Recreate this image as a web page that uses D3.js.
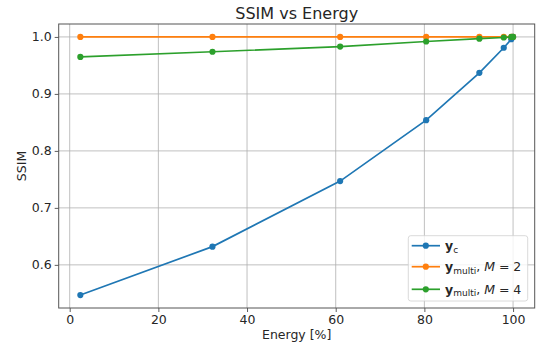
<!DOCTYPE html>
<html><head><meta charset="utf-8">
<script src="https://cdn.jsdelivr.net/npm/d3@7"></script>
<style>
body{margin:0;background:#fff;}
text{font-family:"DejaVu Sans",sans-serif;fill:#262626;}
</style></head>
<body><svg id="c" width="537" height="344"></svg>
<script>
const energy = [2.4, 32.2, 61.0, 80.4, 92.4, 97.9, 99.6, 100];
const ssimYc = [0.547, 0.632, 0.747, 0.854, 0.937, 0.981, 0.996, 1.0];
const ssimM2 = [1.0, 1.0, 1.0, 1.0, 1.0, 1.0, 1.0, 1.0];
const ssimM4 = [0.965, 0.974, 0.983, 0.992, 0.997, 0.999, 1.0, 1.0];
const xTicks = [0, 20, 40, 60, 80, 100];
const yTicks = [0.6, 0.7, 0.8, 0.9, 1.0];
const seriesNames = ["c", "multi, M = 2", "multi, M = 4"];
const colors = ["#1f77b4", "#ff7f0e", "#2ca02c"];

const svg = d3.select("#c");
const L = 58.7, R = 534.7, T = 24, B = 308;
const x = d3.scaleLinear().domain([-2.48, 104.88]).range([L, R]);
const y = d3.scaleLinear().domain([0.5243, 1.0227]).range([B, T]);

// grid
const g = svg.append("g");
g.selectAll(".gx").data(xTicks).join("line")
  .attr("x1", d => x(d)).attr("x2", d => x(d)).attr("y1", T).attr("y2", B)
  .attr("stroke", "#b0b0b0").attr("stroke-width", 0.8);
g.selectAll(".gy").data(yTicks).join("line")
  .attr("y1", d => y(d)).attr("y2", d => y(d)).attr("x1", L).attr("x2", R)
  .attr("stroke", "#b0b0b0").attr("stroke-width", 0.8);

// axes
const xa = svg.append("g").attr("transform", `translate(0,${B})`)
  .call(d3.axisBottom(x).tickValues(xTicks).tickFormat(d3.format("d")).tickSize(4).tickPadding(3));
const ya = svg.append("g").attr("transform", `translate(${L},0)`)
  .call(d3.axisLeft(y).tickValues(yTicks).tickFormat(d3.format(".1f")).tickSize(4).tickPadding(3));
[xa, ya].forEach(a => {
  a.select(".domain").remove();
  a.selectAll("line").attr("stroke", "#333").attr("stroke-width", 0.8);
  a.selectAll("text").style("font-family", "DejaVu Sans").style("font-size", "12.5px").attr("fill", "#262626");
});
// frame
svg.append("rect").attr("x", L).attr("y", T).attr("width", R - L).attr("height", B - T)
  .attr("fill", "none").attr("stroke", "#555").attr("stroke-width", 1);

// series
const all = [ssimYc, ssimM2, ssimM4];
const line = d3.line().x(d => x(d[0])).y(d => y(d[1]));
all.forEach((vals, i) => {
  const pts = energy.map((e, j) => [e, vals[j]]);
  svg.append("path").datum(pts).attr("d", line).attr("fill", "none")
    .attr("stroke", colors[i]).attr("stroke-width", 1.7);
  svg.append("g").selectAll("circle").data(pts).join("circle")
    .attr("cx", d => x(d[0])).attr("cy", d => y(d[1])).attr("r", 3.1).attr("fill", colors[i]);
});

// title & labels
svg.append("text").attr("x", (L + R) / 2).attr("y", 19).attr("text-anchor", "middle")
  .style("font-size", "16px").text("SSIM vs Energy");
svg.append("text").attr("x", (L + R) / 2).attr("y", 339).attr("text-anchor", "middle")
  .style("font-size", "12.5px").text("Energy [%]");
svg.append("text").attr("transform", `translate(26,${(T + B) / 2}) rotate(-90)`).attr("text-anchor", "middle")
  .style("font-size", "12.5px").text("SSIM");

// legend
const lg = svg.append("g");
lg.append("rect").attr("x", 408.3).attr("y", 235.7).attr("width", 119.4).attr("height", 65.3)
  .attr("rx", 2.5).attr("fill", "#fff").attr("fill-opacity", 0.8).attr("stroke", "#d0d0d0").attr("stroke-width", 0.8);
const rowsY = [245.7, 266.7, 289.3];
seriesNames.forEach((nm, i) => {
  const ry = rowsY[i];
  lg.append("line").attr("x1", 411.7).attr("x2", 440).attr("y1", ry).attr("y2", ry)
    .attr("stroke", colors[i]).attr("stroke-width", 1.7);
  lg.append("circle").attr("cx", 425.8).attr("cy", ry).attr("r", 3.1).attr("fill", colors[i]);
  const t = lg.append("text").attr("x", 445).attr("y", ry + 4.5).style("font-size", "12.5px");
  t.append("tspan").style("font-weight", "bold").text("y");
  const parts = nm.split(", ");
  t.append("tspan").attr("dy", 2.5).style("font-size", "9px").text(parts[0]);
  if (parts[1]) {
    const eq = parts[1].split(" = ");
    t.append("tspan").attr("dy", -2.5).text(", ");
    t.append("tspan").style("font-style", "italic").text(eq[0]);
    t.append("tspan").text(" = " + eq[1]);
  }
});
</script></body></html>
